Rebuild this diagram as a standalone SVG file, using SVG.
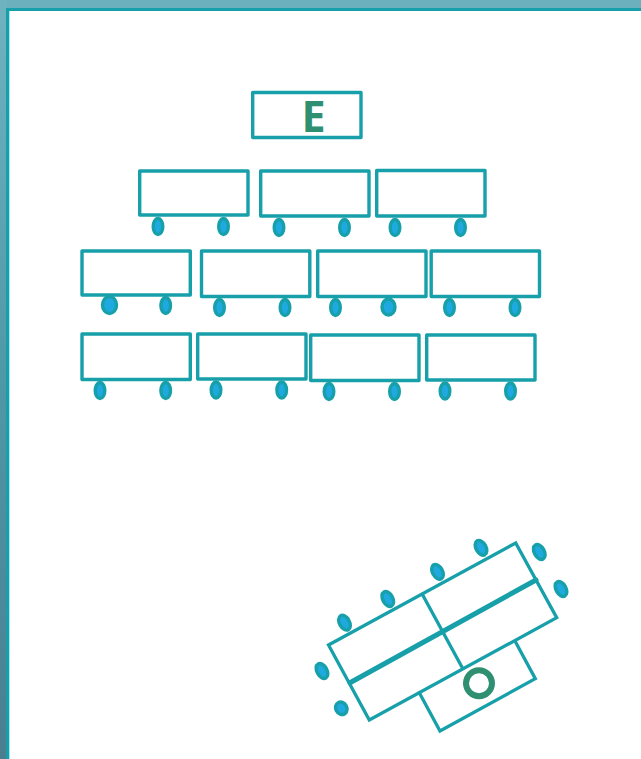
<svg xmlns="http://www.w3.org/2000/svg" width="641" height="759" viewBox="0 0 641 759">
<style>
.b{fill:#fff;stroke:#17a0aa;stroke-width:3.400;stroke-linejoin:round}
.l{fill:none;stroke:#17a0aa;stroke-width:3.300;stroke-linejoin:miter;stroke-linecap:round}
.s{fill:#1eaae0;stroke:#17a0aa;stroke-width:3.400}
.t{font-family:"Noto Sans","Open Sans",sans-serif;font-weight:700;font-size:43px;fill:#2f8f71}
</style>
<defs><linearGradient id="g" x1="0" y1="0" x2="0" y2="1"><stop offset="0" stop-color="#70b3c0"/><stop offset="0.5" stop-color="#4f98a8"/><stop offset="1" stop-color="#4a7f90"/></linearGradient></defs>
<rect width="641" height="759" fill="#fff"/>
<rect width="641" height="9" fill="#6cb0be"/>
<rect width="7" height="759" fill="url(#g)"/>
<rect x="9.500" y="10.500" width="640" height="760" fill="none" stroke="#a6e6f0" stroke-width="1"/>
<path d="M7.500 759V9.500H641" fill="none" stroke="#17a0aa" stroke-width="3"/>
<g id="node-e"><rect class="b" x="252.700" y="92.500" width="108.300" height="45"/><text class="t" x="313.500" y="132" text-anchor="middle">E</text></g>
<g id="row1">
<g id="r1a"><rect class="b" x="139.700" y="171" width="108.300" height="44"/><ellipse class="s" cx="158" cy="226.500" rx="4.800" ry="8"/><ellipse class="s" cx="223.500" cy="226.500" rx="4.800" ry="8"/></g>
<g id="r1b"><rect class="b" x="260.700" y="171" width="108.300" height="45"/><ellipse class="s" cx="279" cy="227.500" rx="4.800" ry="8"/><ellipse class="s" cx="344.500" cy="227.500" rx="4.800" ry="8"/></g>
<g id="r1c"><rect class="b" x="376.700" y="170.500" width="108.300" height="45.500"/><ellipse class="s" cx="395" cy="227.500" rx="4.800" ry="8"/><ellipse class="s" cx="460.500" cy="227.500" rx="4.800" ry="8"/></g>
</g>
<g id="row2">
<g id="r2a"><rect class="b" x="82" y="251" width="108.300" height="44"/><ellipse class="s" cx="109.500" cy="305" rx="7" ry="8.500"/><ellipse class="s" cx="165.700" cy="305.500" rx="4.800" ry="8"/></g>
<g id="r2b"><rect class="b" x="201.500" y="251" width="108.300" height="45.500"/><ellipse class="s" cx="219.500" cy="307.500" rx="4.800" ry="8"/><ellipse class="s" cx="285" cy="307.500" rx="4.800" ry="8"/></g>
<g id="r2c"><rect class="b" x="317.700" y="251" width="108.300" height="45.500"/><ellipse class="s" cx="335.500" cy="307.500" rx="4.800" ry="8"/><ellipse class="s" cx="388.500" cy="307" rx="6.500" ry="8"/></g>
<g id="r2d"><rect class="b" x="431.200" y="251" width="108.300" height="45.500"/><ellipse class="s" cx="449.500" cy="307.500" rx="4.800" ry="8"/><ellipse class="s" cx="515" cy="307.500" rx="4.800" ry="8"/></g>
</g>
<g id="row3">
<g id="r3a"><rect class="b" x="82" y="334" width="108.300" height="45.500"/><ellipse class="s" cx="100" cy="390.500" rx="4.800" ry="8"/><ellipse class="s" cx="165.700" cy="390.500" rx="4.800" ry="8"/></g>
<g id="r3b"><rect class="b" x="197.700" y="334" width="108.300" height="45"/><ellipse class="s" cx="216" cy="390" rx="4.800" ry="8"/><ellipse class="s" cx="281.700" cy="390" rx="4.800" ry="8"/></g>
<g id="r3c"><rect class="b" x="310.700" y="335" width="108.300" height="45.500"/><ellipse class="s" cx="329" cy="391.500" rx="4.800" ry="8"/><ellipse class="s" cx="394.500" cy="391.500" rx="4.800" ry="8"/></g>
<g id="r3d"><rect class="b" x="426.700" y="335" width="108.300" height="45"/><ellipse class="s" cx="445" cy="391" rx="4.800" ry="8"/><ellipse class="s" cx="510.500" cy="391" rx="4.800" ry="8"/></g>
</g>
<g id="rotated">
<path class="l" d="M419.300 692.700L440 731L535.300 678.700L515 641"/>
<path class="l" d="M328.500 645L515.700 543L556.700 617.700L369.300 720Z"/>
<path class="l" d="M350 682.700L536 580" style="stroke-width:5"/>
<path class="l" d="M422.300 594.300L462.300 667.700"/>
<circle cx="479" cy="683.300" r="13" fill="#fff" stroke="#2f8f71" stroke-width="6"/>
<ellipse class="s" transform="rotate(-29 344.500 622.700)" cx="344.500" cy="622.700" rx="5" ry="8"/>
<ellipse class="s" transform="rotate(-29 387.800 599)" cx="387.800" cy="599" rx="5" ry="8"/>
<ellipse class="s" transform="rotate(-29 437.500 571.800)" cx="437.500" cy="571.800" rx="5" ry="8"/>
<ellipse class="s" transform="rotate(-29 481 547.800)" cx="481" cy="547.800" rx="5" ry="8"/>
<ellipse class="s" transform="rotate(-29 539.300 552)" cx="539.300" cy="552" rx="5" ry="8"/>
<ellipse class="s" transform="rotate(-29 561 589)" cx="561" cy="589" rx="5" ry="8"/>
<ellipse class="s" transform="rotate(-29 322 671)" cx="322" cy="671" rx="5" ry="8"/>
<ellipse class="s" transform="rotate(-29 341.300 708.300)" cx="341.300" cy="708.300" rx="5.500" ry="6.500"/>
</g>
</svg>
